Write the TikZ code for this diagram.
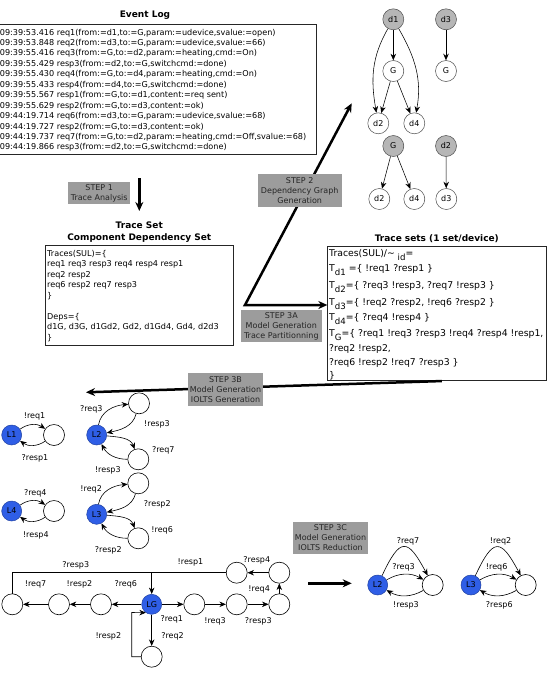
\documentclass[tikz,border=0pt]{standalone}
\usepackage{fontspec}
\setmainfont{DejaVu Sans}
\usetikzlibrary{arrows.meta}
\definecolor{stepgray}{HTML}{9C9C9C}
\definecolor{depgray}{HTML}{B6B6B6}
\definecolor{lblue}{HTML}{2F5EE6}
\newcommand\tsub[1]{\raisebox{-3.8pt}{\fontsize{8.6}{9}\selectfont #1}}
\tikzset{bigtip/.tip={Stealth[length=9pt,width=8pt]}}
\begin{document}
\begin{tikzpicture}[x=1pt,y=1pt,
 txt/.style={inner sep=0pt, anchor=base west, font=\fontsize{8.1}{10}\selectfont},
 ttl/.style={inner sep=0pt, anchor=base, font=\fontsize{9}{11}\selectfont\bfseries},
 tsl/.style={inner sep=0pt, anchor=base west, font=\fontsize{9.3}{11}\selectfont},
 frame/.style={draw=black!85, line width=0.7pt, inner sep=0pt},
 stepbox/.style={fill=stepgray, text=black!85, font=\fontsize{8}{10}\selectfont, align=center, inner sep=0pt},
 bigline/.style={line width=2.5pt, line join=miter},
 dep/.style={circle, draw=black!70, line width=0.5pt, minimum size=21pt, inner sep=0pt, font=\fontsize{8}{10}\selectfont},
 depg/.style={dep, fill=depgray},
 dedge/.style={line width=0.55pt, -{Stealth[length=6.5pt,width=5.5pt]}},
 st/.style={circle, draw=black, line width=0.6pt, minimum size=21pt, inner sep=0pt},
 ini/.style={circle, draw=lblue!70!black, fill=lblue, line width=0.5pt, minimum size=20pt, inner sep=0pt, font=\fontsize{8}{10}\selectfont},
 ed/.style={line width=0.6pt, -{Stealth[length=6.5pt,width=5.5pt]}},
 pl/.style={line width=0.6pt},
 lab/.style={inner sep=0pt, font=\fontsize{8}{10}\selectfont},
]
\useasboundingbox (0,0) rectangle (547,-678);

% ---------------- Event log
\node[ttl] (logtitle) at (145,-17.8) {Event Log};
\node[frame, minimum width=319pt, minimum height=130.3pt] (logbox) at (156.5,-89.15) {};
\foreach \t [count=\i from 0] in {
 {09:39:53.416 req1(from:=d1,to:=G,param:=udevice,svalue:=open)},
 {09:39:53.848 req2(from:=d3,to:=G,param:=udevice,svalue:=66)},
 {09:39:55.416 req3(from:=G,to:=d2,param:=heating,cmd:=On)},
 {09:39:55.429 resp3(from:=d2,to:=G,switchcmd:=done)},
 {09:39:55.430 req4(from:=G,to:=d4,param:=heating,cmd:=On)},
 {09:39:55.433 resp4(from:=d4,to:=G,switchcmd:=done)},
 {09:39:55.567 resp1(from:=G,to:=d1,content:=req sent)},
 {09:39:55.629 resp2(from:=G,to:=d3,content:=ok)},
 {09:44:19.714 req6(from:=d3,to:=G,param:=udevice,svalue:=68)},
 {09:44:19.727 resp2(from:=G,to:=d3,content:=ok)},
 {09:44:19.737 req7(from:=G,to:=d2,param:=heating,cmd:=Off,svalue:=68)},
 {09:44:19.866 resp3(from:=d2,to:=G,switchcmd:=done)}}
 \node[txt] (log\i) at (-0.3,{-35-10.45*\i}) {\t};

% ---------------- Trace set (left)
\node[ttl] (tstitleA) at (139.3,-228.5) {Trace Set};
\node[ttl] (tstitleB) at (139.3,-240) {Component Dependency Set};
\node[frame, minimum width=188.3pt, minimum height=100pt] (tsleft) at (139.15,-295) {};
\node[txt] (tl1) at (47,-256.5) {Traces(SUL)=\{};
\node[txt] (tl2) at (47,-266.95) {req1 req3 resp3 req4 resp4 resp1};
\node[txt] (tl3) at (47,-277.4) {req2 resp2};
\node[txt] (tl4) at (47,-287.85) {req6 resp2 req7 resp3};
\node[txt] (tl5) at (47,-298.3) {\}};
\node[txt] (tl6) at (47,-319.2) {Deps=\{};
\node[txt] (tl7) at (47,-329.65) {d1G, d3G, d1Gd2, Gd2, d1Gd4, Gd4, d2d3};
\node[txt] (tl8) at (47,-340.1) {\}};

% ---------------- Trace sets (right)
\node[ttl] (trtitle) at (436.8,-241.8) {Trace sets (1 set/device)};
\node[frame, minimum width=218.3pt, minimum height=134.7pt] (tsbox) at (436.85,-313.35) {};
\node[tsl] (tr0) at (329,-256.8) {Traces(SUL)/\textasciitilde\ \tsub{id}=};
\node[tsl] (tr1) at (329,-271.8) {T\tsub{d1} =\{ !req1 ?resp1 \}};
\node[tsl] (tr2) at (329,-288.5) {T\tsub{d2}=\{ ?req3 !resp3, ?req7 !resp3 \}};
\node[tsl] (tr3) at (329,-305.2) {T\tsub{d3}=\{ !req2 ?resp2, !req6 ?resp2 \}};
\node[tsl] (tr4) at (329,-320.8) {T\tsub{d4}=\{ ?req4 !resp4 \}};
\node[tsl] (tr5) at (329,-336.8) {T\tsub{G}=\{ ?req1 !req3 ?resp3 !req4 ?resp4 !resp1,};
\node[tsl] (tr6) at (329,-351.8) {?req2 !resp2,};
\node[tsl] (tr7) at (329,-365.8) {?req6 !resp2 !req7 ?resp3 \}};
\node[tsl] (tr8) at (329,-378.3) {\}};

% ---------------- big arrows
\coordinate (s1a) at (139.3,-178);
\coordinate (s1b) at (139.3,-211);
\coordinate (c3a) at (245,-305);
\coordinate (tip2) at (351.7,-103.3);
\coordinate (tip3b) at (86,-392.3);
\coordinate (s3c) at (308.3,-583.3);
\coordinate (e3c) at (351.7,-583.3);
\draw[bigline, -{bigtip}] (s1a) -- (s1b);
\draw[bigline, {bigtip}-{bigtip}] (tip2) -- (c3a) -- (tsbox.west |- c3a);
\draw[bigline, -{bigtip}] ([xshift=5pt]tsbox.south) -- (tip3b);
\draw[bigline, -{bigtip}] (s3c) -- (e3c);

% ---------------- step boxes
\node[stepbox, minimum width=61.7pt, minimum height=22pt] (step1) at (99.2,-193.3) {STEP 1\\Trace Analysis};
\node[stepbox, minimum width=84pt, minimum height=33.3pt] (step2) at (299.7,-190.6) {STEP 2\\Dependency Graph\\Generation};
\node[stepbox, minimum width=80.7pt, minimum height=32.3pt] (step3a) at (281.3,-326.2) {STEP 3A\\Model Generation\\Trace Partitionning};
\node[stepbox, minimum width=75.6pt, minimum height=33pt] (step3b) at (225.5,-389.2) {STEP 3B\\Model Generation\\IOLTS Generation};
\node[stepbox, minimum width=75.6pt, minimum height=32.6pt] (step3c) at (330.5,-538) {STEP 3C\\Model Generation\\IOLTS Reduction};

% ---------------- dependency graphs
\node[depg] (d1) at (393.3,-19.3) {d1};
\node[depg] (d3) at (446,-19.3) {d3};
\node[dep] (G1) at (393.3,-71) {G};
\node[dep] (G3) at (446,-71) {G};
\node[dep] (d2a) at (378.3,-123.3) {d2};
\node[dep] (d4a) at (414.3,-123.3) {d4};
\node[depg] (G2) at (393.3,-146) {G};
\node[depg] (d2b) at (446,-146) {d2};
\node[dep] (d2c) at (379.3,-199) {d2};
\node[dep] (d4c) at (414.3,-199) {d4};
\node[dep] (d3c) at (446.3,-199) {d3};
\draw[dedge] (d1) -- (G1);
\draw[dedge] (G1) -- (d2a);
\draw[dedge] (G1) -- (d4a);
\draw[dedge] (d1) to[out=240,in=100] (d2a);
\draw[dedge] (d1) to[out=300,in=80] (d4a);
\draw[dedge] (d3) -- (G3);
\draw[dedge] (G2) -- (d2c);
\draw[dedge] (G2) -- (d4c);
\draw[dedge] (d2b) -- (d3c);

% ---------------- IOLTS (generation)
\node[ini] (L1) at (11.7,-435) {L1};
\node[st] (N1) at (54,-435) {};
\node[ini] (L4) at (11.7,-511) {L4};
\node[st] (N4) at (54,-511) {};
\draw[ed] (L1) to[bend left=35] (N1);
\draw[ed] (N1) to[bend left=35] (L1);
\draw[ed] (L4) to[bend left=35] (N4);
\draw[ed] (N4) to[bend left=35] (L4);
\node[lab] (lq1) at (34.5,-416.7) {!req1};
\node[lab] (lq2) at (35,-458.3) {?resp1};
\node[lab] (lq3) at (35.3,-493.3) {?req4};
\node[lab] (lq4) at (35.8,-535) {!resp4};

\node[ini] (L2) at (96.7,-435) {L2};
\node[st] (T2) at (139,-403.3) {};
\node[st] (B2) at (138.3,-459.3) {};
\draw[ed] (L2) to[out=80,in=185] (T2);
\draw[ed] (T2) to[out=255,in=12] (L2);
\draw[ed] (L2) to[out=-5,in=110] (B2);
\draw[ed] (B2) to[out=180,in=-62] (L2);
\node[lab] (lq5) at (91.3,-409) {?req3};
\node[lab] (lq6) at (157,-424) {!resp3};
\node[lab] (lq7) at (163.3,-450.7) {?req7};
\node[lab] (lq8) at (107.8,-470.7) {!resp3};

\node[ini] (L3) at (96.7,-514.3) {L3};
\node[st] (T3) at (138.3,-483.3) {};
\node[st] (B3) at (138.3,-538.3) {};
\draw[ed] (L3) to[out=80,in=185] (T3);
\draw[ed] (T3) to[out=255,in=12] (L3);
\draw[ed] (L3) to[out=-5,in=110] (B3);
\draw[ed] (B3) to[out=180,in=-62] (L3);
\node[lab] (lq9) at (91.2,-489.3) {!req2};
\node[lab] (lq10) at (157.3,-504) {?resp2};
\node[lab] (lq11) at (162.2,-530) {!req6};
\node[lab] (lq12) at (108.3,-550.7) {?resp2};

% ---------------- IOLTS LG
\node[ini] (LG) at (151.7,-604.3) {LG};
\node[st] (n1) at (194.3,-604.3) {};
\node[st] (n2) at (236.7,-604.3) {};
\node[st] (n3) at (279.3,-604.3) {};
\node[st] (n4) at (279.3,-572.7) {};
\node[st] (n5) at (236.7,-572.7) {};
\node[st] (m1) at (101,-604.3) {};
\node[st] (m2) at (59,-604.3) {};
\node[st] (m3) at (12.3,-604.3) {};
\node[st] (b1) at (151.7,-656.7) {};
\coordinate (jn) at (151.7,-572.7);
\coordinate (lp) at (131.7,-612.5);
\draw[ed] (LG) -- (n1);
\draw[ed] (n1) -- (n2);
\draw[ed] (n2) -- (n3);
\draw[ed] (n3) -- (n4);
\draw[ed] (n4) -- (n5);
\draw[ed] (n5) -| (LG);
\draw[pl] (m3) |- (jn);
\draw[ed] (LG) -- (m1);
\draw[ed] (m1) -- (m2);
\draw[ed] (m2) -- (m3);
\draw[ed] (LG) -- (b1);
\draw[ed] (b1.west) -| (lp) -- (LG.235);
\node[lab] (g1) at (75.8,-565) {?resp3};
\node[lab] (g2) at (190.5,-562.7) {!resp1};
\node[lab] (g3) at (256.8,-560.7) {?resp4};
\node[lab] (g4) at (35.5,-584.3) {!req7};
\node[lab] (g5) at (79.5,-584.3) {!resp2};
\node[lab] (g6) at (125.8,-584.3) {?req6};
\node[lab] (g7) at (259.2,-589.3) {!req4};
\node[lab] (g8) at (171.8,-619.3) {?req1};
\node[lab] (g9) at (215,-621) {!req3};
\node[lab] (g10) at (258.3,-621) {?resp3};
\node[lab] (g11) at (108.3,-636) {!resp2};
\node[lab] (g12) at (172.5,-636) {?req2};

% ---------------- IOLTS reduced
\node[ini] (L2r) at (377.7,-585) {L2};
\node[st] (R2) at (432.7,-585) {};
\node[ini] (L3r) at (471,-585) {L3};
\node[st] (R3) at (525.7,-585) {};
\draw[ed] (L2r) to[out=65,in=118,looseness=2.4] (R2);
\draw[ed] (L2r) to[bend left=30] (R2);
\draw[ed] (R2) to[bend left=30] (L2r);
\draw[ed] (L3r) to[out=65,in=118,looseness=2.4] (R3);
\draw[ed] (L3r) to[bend left=30] (R3);
\draw[ed] (R3) to[bend left=30] (L3r);
\node[lab] (r1) at (408,-541) {?req7};
\node[lab] (r2) at (403.5,-567.7) {?req3};
\node[lab] (r3) at (406,-605.7) {!resp3};
\node[lab] (r4) at (500.5,-541) {!req2};
\node[lab] (r5) at (496.7,-567.7) {!req6};
\node[lab] (r6) at (499.3,-605.7) {?resp6};
\end{tikzpicture}
\end{document}
